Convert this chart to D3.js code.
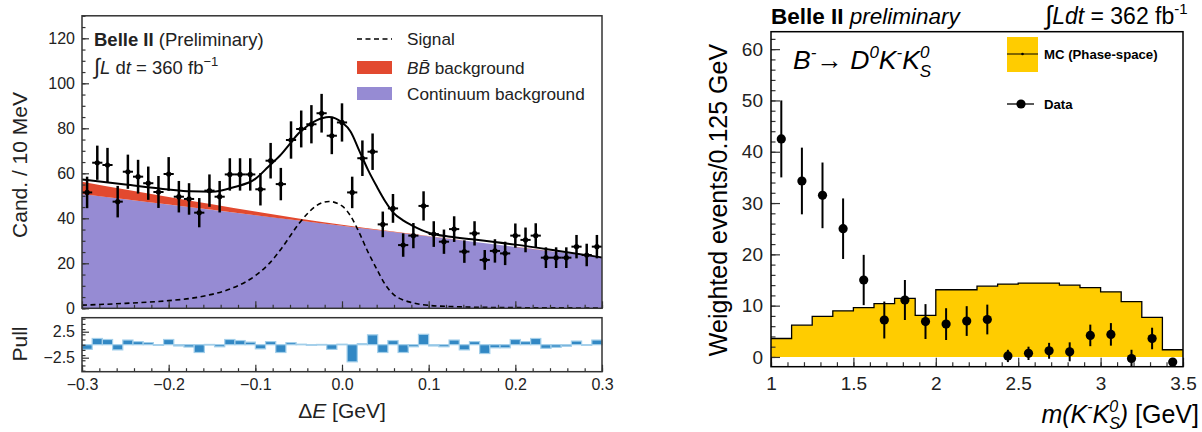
<!DOCTYPE html>
<html>
<head>
<meta charset="utf-8">
<script src="https://cdn.jsdelivr.net/npm/d3@7"></script>
<style>
  body { margin: 0; background: #fff; }
  svg text { font-family: "Liberation Sans", Arial, Helvetica, sans-serif; }
</style>
</head>
<body>
<svg id="chart" width="1202" height="432"></svg>
<script>
// ---- left panel: Delta E fit, 51 bins over [-0.3, 0.3] GeV
const deRange = [-0.3, 0.3];
const deBins = 51;
const candCounts = [51.5, 64.7, 63.7, 47.4, 60.7, 58.5, 55.6, 51.7, 59.7, 49.6, 48.6, 42.5, 52.3,
  49.6, 59.5, 59.5, 59.5, 52.9, 65.6, 55.2, 74.8, 79.7, 81.8, 86.7, 76.7, 82.6, 51.5, 66.7, 69.6,
  37.3, 44.4, 28.1, 32.3, 45.5, 33.0, 29.6, 35.2, 25.2, 33.3, 21.5, 25.5, 24.4, 32.3, 30.4, 32.3,
  22.5, 22.5, 22.5, 27.4, 23.7, 27.4];
const candErrs = [7.0, 7.6, 7.6, 7.0, 7.6, 7.5, 7.4, 7.1, 7.5, 7.0, 7.0, 6.5, 7.2, 7.0, 7.2, 7.2,
  7.2, 7.2, 7.9, 7.2, 8.3, 8.2, 8.5, 8.6, 8.2, 8.5, 7.0, 7.9, 8.1, 5.7, 6.4, 5.2, 5.6, 6.5, 5.7,
  5.4, 5.7, 5.0, 5.4, 4.4, 5.2, 5.2, 5.4, 5.5, 5.5, 4.6, 4.6, 4.6, 5.2, 5.0, 5.2];
const pulls = [-0.9, 1.2, 1.0, -1.0, 0.9, 0.6, 0.4, -0.1, 1.0, -0.25, -0.45, -1.5, 0.05, -0.4,
  1.0, 0.8, 0.5, -0.8, 0.6, -1.5, 0.4, 0.1, 0.0, 0.05, -0.9, 0.1, -3.3, 0.2, 1.9, -1.5, 0.8,
  -1.5, -0.4, 2.0, -0.25, -0.4, 0.9, -1.0, 0.6, -1.7, -0.6, -0.6, 1.0, 0.6, 1.2, -0.7, -0.5,
  -0.3, 0.7, -0.05, 0.9];

// fit components
const fitX = [-0.3, -0.25, -0.2, -0.175, -0.15, -0.125, -0.1, -0.085, -0.07, -0.06, -0.05, -0.04,
  -0.03, -0.015, 0.0, 0.01, 0.02, 0.03, 0.04, 0.05, 0.06, 0.07, 0.08, 0.1, 0.125, 0.15, 0.2, 0.25, 0.3];
const fitTotal = [57.3, 55.0, 52.8, 52.0, 51.8, 53.8, 57.5, 62.9, 68.5, 73.2, 77.8, 81.0, 83.4,
  85.0, 82.6, 78.5, 70.0, 61.5, 54.2, 47.5, 42.2, 39.2, 37.0, 33.6, 31.8, 30.7, 28.3, 25.5, 22.6];
const sigX = [-0.3, -0.25, -0.2, -0.175, -0.15, -0.125, -0.1, -0.085, -0.07, -0.06, -0.05, -0.04,
  -0.03, -0.015, 0.0, 0.01, 0.02, 0.03, 0.04, 0.05, 0.06, 0.07, 0.08, 0.1, 0.125, 0.15, 0.2, 0.25, 0.3];
const sigVals = [1.4, 2.2, 3.4, 4.4, 6.2, 9.2, 14.5, 19.5, 26.5, 32.0, 37.5, 42.0, 45.5, 47.5,
  45.5, 41.0, 33.5, 25.0, 17.5, 10.5, 6.0, 3.8, 2.6, 1.3, 0.8, 0.5, 0.3, 0.2, 0.1];
const contX = [-0.3, 0.0, 0.3];
const contVals = [50.8, 36.7, 22.6];
const bbX = [-0.3, -0.25, -0.2, -0.15, -0.1, -0.05, 0.0, 0.05, 0.1, 0.15, 0.2, 0.25, 0.3];
const bbVals = [5.5, 4.4, 3.4, 2.5, 1.6, 0.9, 0.45, 0.2, 0.08, 0.03, 0.01, 0, 0];

// ---- right panel: m(K- K0S), 20 bins of 0.125 GeV from 1.0
const mLow = 1.0;
const mBinW = 0.125;
const mcVals = [3.6, 6.2, 7.9, 9.0, 9.6, 10.4, 11.4, 8.1, 13.1, 13.1, 13.8, 14.2, 14.4, 14.4,
  14.0, 13.5, 12.7, 10.8, 7.7, 1.4];
const dataVals = [42.5, 34.3, 31.5, 25.0, 15.0, 7.2, 11.1, 6.9, 6.4, 7.0, 7.3, 0.2, 0.7, 1.2,
  1.0, 4.2, 4.4, -0.3, 3.6, -1.0];
const dataErrs = [7.5, 6.5, 6.4, 5.9, 4.9, 3.6, 3.9, 3.4, 3.1, 2.9, 2.9, 1.2, 1.3, 1.55, 1.85,
  2.1, 2.2, 1.7, 2.1, 0];

const svg = d3.select('#chart');
const FRAME = '#333';

// ================= left panel =================
const xL = d3.scaleLinear().domain(deRange).range([82, 602]);
const yL = d3.scaleLinear().domain([0, 130]).range([308.3, 15.8]);
const yP = d3.scaleLinear().domain([-5.2, 5.2]).range([371.7, 317.7]);
const bw = (deRange[1] - deRange[0]) / deBins;
const centers = d3.range(deBins).map(i => deRange[0] + (i + 0.5) * bw);
const cont = d3.scaleLinear().domain(contX).range(contVals);

svg.append('clipPath').attr('id', 'clipL').append('rect')
  .attr('x', 82).attr('y', 15.8).attr('width', 520).attr('height', 292.5);
let gL = svg.append('g').attr('clip-path', 'url(#clipL)');

gL.append('path').datum(contX)
  .attr('fill', '#968bd3')
  .attr('d', d3.area().x(d => xL(d)).y0(yL(0)).y1(d => yL(cont(d))));

gL.append('path').datum(bbX.map((x, i) => [x, bbVals[i]]))
  .attr('fill', '#e2492f')
  .attr('d', d3.area().curve(d3.curveMonotoneX)
    .x(d => xL(d[0])).y0(d => yL(cont(d[0]))).y1(d => yL(cont(d[0]) + d[1])));

gL.append('path').datum(sigX.map((x, i) => [x, sigVals[i]]))
  .attr('fill', 'none').attr('stroke', '#000').attr('stroke-width', 1.6)
  .attr('stroke-dasharray', '5,3.5')
  .attr('d', d3.line().curve(d3.curveMonotoneX).x(d => xL(d[0])).y(d => yL(d[1])));

gL.append('path').datum(fitX.map((x, i) => [x, fitTotal[i]]))
  .attr('fill', 'none').attr('stroke', '#000').attr('stroke-width', 2)
  .attr('d', d3.line().curve(d3.curveMonotoneX).x(d => xL(d[0])).y(d => yL(d[1])));

let pts = svg.append('g').selectAll('g').data(centers).enter().append('g');
pts.append('line')
  .attr('x1', d => xL(d)).attr('x2', d => xL(d))
  .attr('y1', (d, i) => yL(candCounts[i] + candErrs[i]))
  .attr('y2', (d, i) => yL(candCounts[i] - candErrs[i]))
  .attr('stroke', '#000').attr('stroke-width', 2.5);
pts.append('line')
  .attr('x1', d => xL(d - bw / 2)).attr('x2', d => xL(d + bw / 2))
  .attr('y1', (d, i) => yL(candCounts[i])).attr('y2', (d, i) => yL(candCounts[i]))
  .attr('stroke', '#000').attr('stroke-width', 2);
pts.append('circle')
  .attr('cx', d => xL(d)).attr('cy', (d, i) => yL(candCounts[i])).attr('r', 2.6)
  .attr('fill', '#000');

// pull histogram
svg.append('g').selectAll('rect').data(pulls).enter().append('rect')
  .attr('x', (d, i) => xL(centers[i] - bw / 2))
  .attr('width', xL(bw) - xL(0))
  .attr('y', d => Math.min(yP(d), yP(0)))
  .attr('height', d => Math.max(Math.abs(yP(d) - yP(0)), 0.6))
  .attr('fill', '#3288c4').attr('stroke', '#a3cfea').attr('stroke-width', 1.2);

function styleAxis(g, size) {
  g.select('.domain').remove();
  g.selectAll('line').attr('stroke', FRAME).attr('stroke-width', 1.2);
  g.selectAll('text').attr('font-size', size).attr('fill', '#222')
    .attr('font-family', '"Liberation Sans", Arial, sans-serif');
}

// left axes
svg.append('g').attr('transform', 'translate(82,0)')
  .call(d3.axisLeft(yL).tickValues(d3.range(0, 131, 5)).tickSize(-3.5).tickFormat(''))
  .call(g => styleAxis(g, 16));
svg.append('g').attr('transform', 'translate(82,0)')
  .call(d3.axisLeft(yL).tickValues([0, 20, 40, 60, 80, 100, 120]).tickSize(-7).tickPadding(7))
  .call(g => styleAxis(g, 16));
svg.append('g').attr('transform', 'translate(0,308.3)')
  .call(d3.axisBottom(xL).tickValues(d3.range(-15, 16).map(i => i * 0.02)).tickSize(-3.5).tickFormat(''))
  .call(g => styleAxis(g, 16));
svg.append('g').attr('transform', 'translate(0,308.3)')
  .call(d3.axisBottom(xL).ticks(6).tickSize(-7).tickFormat(''))
  .call(g => styleAxis(g, 16));

svg.append('g').attr('transform', 'translate(82,0)')
  .call(d3.axisLeft(yP).tickValues(d3.range(-5, 6)).tickSize(-3.5).tickFormat(''))
  .call(g => styleAxis(g, 16));
svg.append('g').attr('transform', 'translate(82,0)')
  .call(d3.axisLeft(yP).tickValues([-2.5, 2.5]).tickSize(-7).tickPadding(7).tickFormat(d3.format('.1f')))
  .call(g => styleAxis(g, 16));
svg.append('g').attr('transform', 'translate(0,371.7)')
  .call(d3.axisBottom(xL).tickValues(d3.range(-15, 16).map(i => i * 0.02)).tickSize(-3.5).tickFormat(''))
  .call(g => styleAxis(g, 16));
svg.append('g').attr('transform', 'translate(0,371.7)')
  .call(d3.axisBottom(xL).ticks(6).tickSize(-7).tickPadding(7).tickFormat(d3.format('.1f')))
  .call(g => styleAxis(g, 16));

// frames
svg.append('rect').attr('x', 82).attr('y', 15.8).attr('width', 520).attr('height', 292.5)
  .attr('fill', 'none').attr('stroke', FRAME).attr('stroke-width', 1.5);
svg.append('rect').attr('x', 82).attr('y', 317.7).attr('width', 520).attr('height', 54)
  .attr('fill', 'none').attr('stroke', FRAME).attr('stroke-width', 1.5);

// left labels
svg.append('text').attr('transform', 'translate(27,165) rotate(-90)')
  .attr('text-anchor', 'middle').attr('font-size', 21).attr('fill', '#222')
  .text('Cand. / 10 MeV');
svg.append('text').attr('transform', 'translate(27,344) rotate(-90)')
  .attr('text-anchor', 'middle').attr('font-size', 21).attr('fill', '#222')
  .text('Pull');
let dxl = svg.append('text').attr('x', 342).attr('y', 418).attr('text-anchor', 'middle')
  .attr('font-size', 21).attr('fill', '#222');
dxl.append('tspan').text('Δ');
dxl.append('tspan').attr('font-style', 'italic').text('E');
dxl.append('tspan').text(' [GeV]');

let bl = svg.append('text').attr('x', 94).attr('y', 46).attr('font-size', 18.5).attr('fill', '#222');
bl.append('tspan').attr('font-weight', 'bold').text('Belle II');
bl.append('tspan').text(' (Preliminary)');
let lum = svg.append('text').attr('x', 94).attr('y', 74).attr('font-size', 18.5).attr('fill', '#222');
lum.append('tspan').attr('font-size', 22).text('∫');
lum.append('tspan').attr('font-style', 'italic').text('L');
lum.append('tspan').text(' d');
lum.append('tspan').attr('font-style', 'italic').text('t');
lum.append('tspan').text(' = 360 fb');
lum.append('tspan').attr('font-size', 13).attr('dy', -8).text('−1');

// left legend
const legL = svg.append('g');
legL.append('line').attr('x1', 357).attr('x2', 392).attr('y1', 39).attr('y2', 39)
  .attr('stroke', '#000').attr('stroke-width', 1.5).attr('stroke-dasharray', '5,3.5');
legL.append('rect').attr('x', 357).attr('y', 61).attr('width', 35).attr('height', 13).attr('fill', '#e2492f');
legL.append('rect').attr('x', 357).attr('y', 87).attr('width', 35).attr('height', 13).attr('fill', '#968bd3');
legL.append('text').attr('x', 407).attr('y', 45).attr('font-size', 17.2).attr('fill', '#222').text('Signal');
let bbt = legL.append('text').attr('x', 407).attr('y', 74).attr('font-size', 17.2).attr('fill', '#222');
bbt.append('tspan').attr('font-style', 'italic').text('B');
bbt.append('tspan').attr('font-style', 'italic').text('B\u0304');
bbt.append('tspan').text(' background');
legL.append('text').attr('x', 407).attr('y', 100).attr('font-size', 17.2).attr('fill', '#222').text('Continuum background');

// ================= right panel =================
const xR = d3.scaleLinear().domain([1, 3.5]).range([771, 1183]);
const yR = d3.scaleLinear().domain([-1.9, 63.4]).range([366.7, 31.7]);
const edges = d3.range(mcVals.length + 1).map(i => mLow + i * mBinW);
const mcSteps = edges.map((e, i) => [e, mcVals[Math.min(i, mcVals.length - 1)]]);

svg.append('path').datum(mcSteps)
  .attr('fill', '#ffcc00')
  .attr('d', d3.area().curve(d3.curveStepAfter).x(d => xR(d[0])).y0(yR(0)).y1(d => yR(d[1])));
svg.append('path').datum(mcSteps)
  .attr('fill', 'none').attr('stroke', '#000').attr('stroke-width', 1.3)
  .attr('d', d3.line().curve(d3.curveStepAfter).x(d => xR(d[0])).y(d => yR(d[1])));

const mCenters = edges.slice(0, -1).map(e => e + mBinW / 2);
let dp = svg.append('g').selectAll('g').data(mCenters).enter().append('g');
dp.append('line')
  .attr('x1', d => xR(d)).attr('x2', d => xR(d))
  .attr('y1', (d, i) => yR(dataVals[i] + dataErrs[i]))
  .attr('y2', (d, i) => Math.min(yR(dataVals[i] - dataErrs[i]), 366))
  .attr('stroke', '#000').attr('stroke-width', 2);
dp.append('circle')
  .attr('cx', d => xR(d)).attr('cy', (d, i) => yR(dataVals[i])).attr('r', 4.6).attr('fill', '#000');

svg.append('g').attr('transform', 'translate(771,0)')
  .call(d3.axisLeft(yR).tickValues(d3.range(0, 63, 2)).tickSize(-4.5).tickFormat(''))
  .call(g => styleAxis(g, 19));
svg.append('g').attr('transform', 'translate(771,0)')
  .call(d3.axisLeft(yR).tickValues(d3.range(0, 61, 10)).tickSize(-9).tickPadding(8))
  .call(g => styleAxis(g, 19));
svg.append('g').attr('transform', 'translate(0,366.7)')
  .call(d3.axisBottom(xR).tickValues(d3.range(10, 36).map(i => i / 10)).tickSize(-4.5).tickFormat(''))
  .call(g => styleAxis(g, 19));
svg.append('g').attr('transform', 'translate(0,366.7)')
  .call(d3.axisBottom(xR).tickValues([1, 1.5, 2, 2.5, 3, 3.5]).tickSize(-9).tickPadding(10).tickFormat(d3.format('~g')))
  .call(g => styleAxis(g, 19));

svg.append('rect').attr('x', 771).attr('y', 31.7).attr('width', 412).attr('height', 335)
  .attr('fill', 'none').attr('stroke', '#000').attr('stroke-width', 1.5);

// right texts
let br = svg.append('text').attr('x', 771).attr('y', 24).attr('font-size', 22.5).attr('fill', '#000');
br.append('tspan').attr('font-weight', 'bold').text('Belle II ');
br.append('tspan').attr('font-style', 'italic').text('preliminary');
let lr = svg.append('text').attr('x', 1045).attr('y', 24).attr('font-size', 23).attr('fill', '#000');
lr.append('tspan').attr('font-size', 26).text('∫');
lr.append('tspan').attr('font-style', 'italic').text('Ldt');
lr.append('tspan').text(' = 362 fb');
lr.append('tspan').attr('font-size', 15).attr('dy', -10).text('-1');

let dec = svg.append('text').attr('x', 793).attr('y', 69).attr('font-size', 26.5).attr('font-style', 'italic').attr('fill', '#000');
dec.append('tspan').text('B');
dec.append('tspan').attr('font-size', 17).attr('dy', -11).text('-');
dec.append('tspan').attr('dy', 11).attr('font-style', 'normal').text('→ ');
dec.append('tspan').text('D');
dec.append('tspan').attr('font-size', 17).attr('dy', -11).text('0');
dec.append('tspan').attr('dy', 11).text('K');
dec.append('tspan').attr('font-size', 17).attr('dy', -11).text('-');
dec.append('tspan').attr('dy', 11).text('K');
dec.append('tspan').attr('font-size', 17).attr('dy', -11).text('0');
dec.append('tspan').attr('font-size', 17).attr('dx', -9.5).attr('dy', 19).text('S');

svg.append('text').attr('transform', 'translate(727,200) rotate(-90)')
  .attr('text-anchor', 'middle').attr('font-size', 25).attr('fill', '#000')
  .text('Weighted events/0.125 GeV');

let mx = svg.append('text').attr('x', 1199).attr('y', 423).attr('text-anchor', 'end')
  .attr('font-size', 25).attr('fill', '#000');
mx.append('tspan').attr('font-style', 'italic').text('m(K');
mx.append('tspan').attr('font-style', 'italic').attr('font-size', 16).attr('dy', -11).text('-');
mx.append('tspan').attr('font-style', 'italic').attr('dy', 11).text('K');
mx.append('tspan').attr('font-style', 'italic').attr('font-size', 16).attr('dy', -11).text('0');
mx.append('tspan').attr('font-style', 'italic').attr('font-size', 16).attr('dx', -9).attr('dy', 17).text('S');
mx.append('tspan').attr('font-style', 'italic').attr('dy', -6).text(')');
mx.append('tspan').text(' [GeV]');

// right legend
const legR = svg.append('g');
legR.append('rect').attr('x', 1007).attr('y', 37).attr('width', 31).attr('height', 35).attr('fill', '#ffcc00');
legR.append('line').attr('x1', 1007).attr('x2', 1038).attr('y1', 54).attr('y2', 54).attr('stroke', '#000').attr('stroke-width', 1);
legR.append('circle').attr('cx', 1022.5).attr('cy', 54).attr('r', 1.3).attr('fill', '#000');
legR.append('text').attr('x', 1044).attr('y', 59).attr('font-size', 13.2).attr('font-weight', 'bold').text('MC (Phase-space)');
legR.append('line').attr('x1', 1007).attr('x2', 1034).attr('y1', 104).attr('y2', 104).attr('stroke', '#000').attr('stroke-width', 1.3);
legR.append('circle').attr('cx', 1021).attr('cy', 104).attr('r', 4.6).attr('fill', '#000');
legR.append('text').attr('x', 1044).attr('y', 109).attr('font-size', 13.2).attr('font-weight', 'bold').text('Data');
</script>
</body>
</html>
